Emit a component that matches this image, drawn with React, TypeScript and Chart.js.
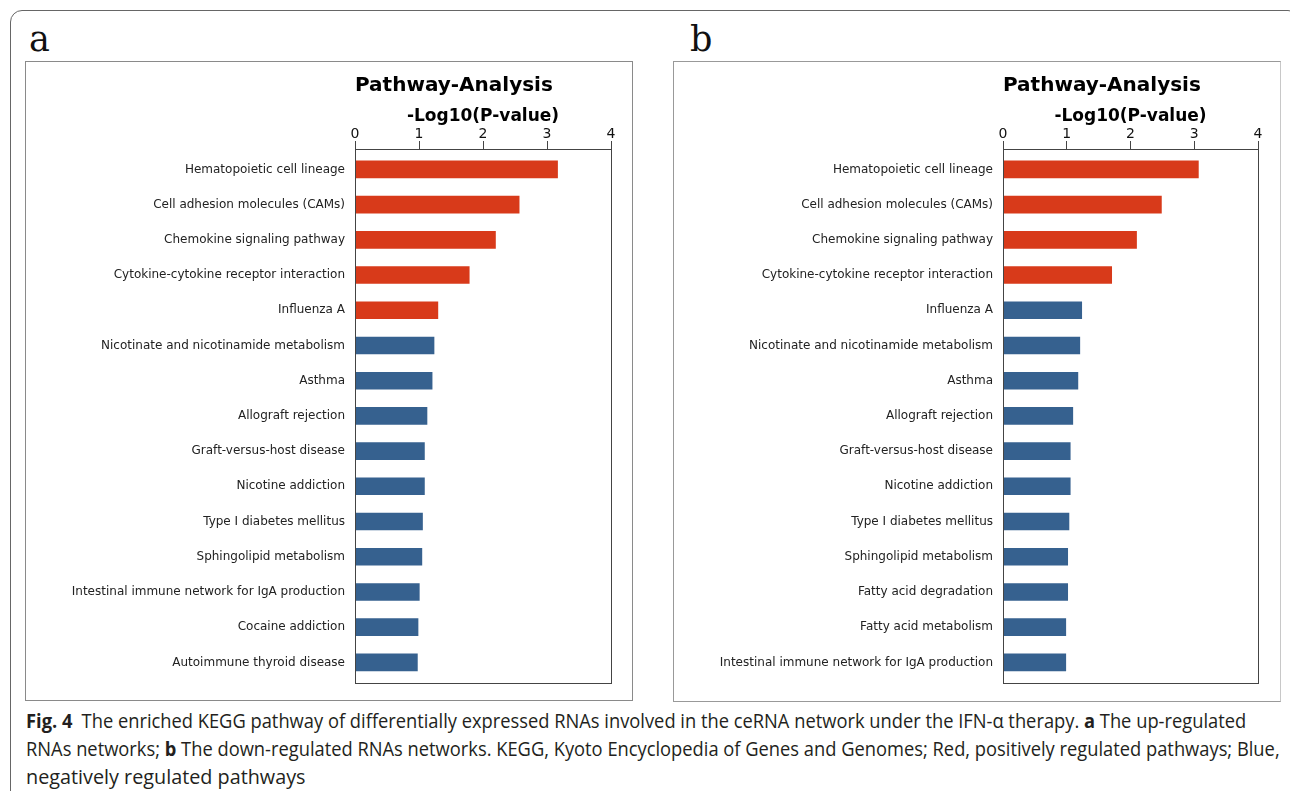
import React, { useEffect, useLayoutEffect, useRef, useState } from "react";
import { Chart, registerables } from "chart.js";

Chart.register(...registerables);

// ---------- data ----------
const categoriesA = [
  "Hematopoietic cell lineage",
  "Cell adhesion molecules (CAMs)",
  "Chemokine signaling pathway",
  "Cytokine-cytokine receptor interaction",
  "Influenza A",
  "Nicotinate and nicotinamide metabolism",
  "Asthma",
  "Allograft rejection",
  "Graft-versus-host disease",
  "Nicotine addiction",
  "Type I diabetes mellitus",
  "Sphingolipid metabolism",
  "Intestinal immune network for IgA production",
  "Cocaine addiction",
  "Autoimmune thyroid disease",
];
const valuesA = [3.17, 2.57, 2.2, 1.79, 1.3, 1.24, 1.21, 1.13, 1.09, 1.09, 1.06, 1.05, 1.01, 0.99, 0.98];
const regulationA = ["up", "up", "up", "up", "up", "down", "down", "down", "down", "down", "down", "down", "down", "down", "down"];

const categoriesB = [
  "Hematopoietic cell lineage",
  "Cell adhesion molecules (CAMs)",
  "Chemokine signaling pathway",
  "Cytokine-cytokine receptor interaction",
  "Influenza A",
  "Nicotinate and nicotinamide metabolism",
  "Asthma",
  "Allograft rejection",
  "Graft-versus-host disease",
  "Nicotine addiction",
  "Type I diabetes mellitus",
  "Sphingolipid metabolism",
  "Fatty acid degradation",
  "Fatty acid metabolism",
  "Intestinal immune network for IgA production",
];
const valuesB = [3.07, 2.49, 2.1, 1.71, 1.24, 1.21, 1.18, 1.1, 1.06, 1.06, 1.04, 1.02, 1.02, 0.99, 0.99];
const regulationB = ["up", "up", "up", "up", "down", "down", "down", "down", "down", "down", "down", "down", "down", "down", "down"];

const xTickValues = [0, 1, 2, 3, 4];
const chartTitle = "Pathway-Analysis";
const axisTitle = "-Log10(P-value)";

const captionLines = [
  [
    { b: true, t: "Fig. 4" },
    { b: false, t: "\u2002The enriched KEGG pathway of differentially expressed RNAs involved in the ceRNA network under the IFN-\u03b1 therapy. " },
    { b: true, t: "a" },
    { b: false, t: " The up-regulated" },
  ],
  [
    { b: false, t: "RNAs networks; " },
    { b: true, t: "b" },
    { b: false, t: " The down-regulated RNAs networks. KEGG, Kyoto Encyclopedia of Genes and Genomes; Red, positively regulated pathways; Blue," },
  ],
  [{ b: false, t: "negatively regulated pathways" }],
];
const captionWidths = [1220, 1254, 280];

// ---------- styles ----------
const RED = "#d83a1a";
const BLUE = "#36618f";
const SPINE = "#444444";
const FONT = "'DejaVu Sans', sans-serif";

const framePlugin = {
  id: "frame",
  afterDraw(chart: any) {
    const { ctx, chartArea: a } = chart;
    ctx.save();
    ctx.strokeStyle = SPINE;
    ctx.lineWidth = 1;
    const l = Math.round(a.left) + 0.5;
    const t = Math.round(a.top) + 0.5;
    const r = Math.round(a.right) + 0.5;
    const b = Math.round(a.bottom) + 0.5;
    ctx.strokeRect(l, t, r - l, b - t);
    ctx.restore();
  },
};

function makeConfig(categories: string[], values: number[], regulation: string[], rightPad: number, bottomPad: number): any {
  const n = categories.length;
  return {
    type: "bar",
    data: {
      datasets: [
        {
          data: values.map((v, i) => ({ x: v, y: i })),
          backgroundColor: regulation.map((r) => (r === "up" ? RED : BLUE)),
          borderWidth: 0,
          barPercentage: 0.5,
          categoryPercentage: 1,
        },
      ],
    },
    options: {
      indexAxis: "y",
      animation: false,
      responsive: false,
      maintainAspectRatio: false,
      layout: { padding: { left: 0, right: rightPad, top: 0, bottom: bottomPad } },
      plugins: {
        legend: { display: false },
        tooltip: { enabled: false },
        title: {
          display: true,
          text: chartTitle,
          align: "start",
          fullSize: false,
          color: "#000",
          font: { family: FONT, size: 20, weight: "bold", lineHeight: 1.2 },
          padding: { top: 12, bottom: 0 },
        },
      },
      scales: {
        x: {
          type: "linear",
          position: "top",
          min: xTickValues[0],
          max: xTickValues[xTickValues.length - 1],
          afterBuildTicks: (s: any) => {
            s.ticks = xTickValues.map((v) => ({ value: v }));
          },
          ticks: {
            font: { family: FONT, size: 14, lineHeight: 1 },
            color: "#111",
            padding: 0,
            maxRotation: 0,
          },
          grid: { drawOnChartArea: false, drawTicks: true, tickLength: 8, color: SPINE, tickColor: SPINE, tickWidth: 1 },
          border: { display: false },
          title: {
            display: true,
            text: axisTitle,
            color: "#000",
            font: { family: FONT, size: 17, weight: "bold", lineHeight: 1.2 },
            padding: { top: 8, bottom: 0 },
          },
          afterFit: (s: any) => {
            s.height = 51;
          },
        },
        y: {
          type: "linear",
          offset: false,
          min: -0.58,
          max: n - 1 + 0.58,
          reverse: true,
          afterBuildTicks: (s: any) => {
            s.ticks = categories.map((_, i) => ({ value: i }));
          },
          ticks: {
            autoSkip: false,
            callback: (v: any) => categories[v],
            font: { family: FONT, size: 12 },
            color: "#222",
            padding: 10,
          },
          grid: { display: false, drawTicks: false, offset: false },
          border: { display: false },
          afterFit: (s: any) => {
            s.width = 329;
          },
        },
      },
    },
    plugins: [framePlugin],
  };
}

function BarPanel(props: { left: number; categories: string[]; values: number[]; regulation: string[]; rightPad: number; bottomPad: number }) {
  const ref = useRef<HTMLCanvasElement>(null);
  useEffect(() => {
    if (!ref.current) return;
    const chart = new Chart(ref.current, makeConfig(props.categories, props.values, props.regulation, props.rightPad, props.bottomPad));
    return () => chart.destroy();
  }, []);
  return (
    <canvas
      ref={ref}
      width={606}
      height={638}
      style={{ position: "absolute", left: props.left, top: 62, width: 606, height: 638 }}
    />
  );
}

function FitLine(props: { top: number; width: number; parts: { b: boolean; t: string }[] }) {
  const ref = useRef<HTMLSpanElement>(null);
  const [sx, setSx] = useState(1);
  useLayoutEffect(() => {
    const measure = () => {
      if (!ref.current) return;
      const w = ref.current.offsetWidth;
      if (w > 0) setSx(props.width / w);
    };
    measure();
    if ((document as any).fonts && (document as any).fonts.ready) {
      (document as any).fonts.ready.then(measure);
    }
  }, []);
  return (
    <span
      ref={ref}
      style={{
        position: "absolute",
        left: 26,
        top: props.top,
        whiteSpace: "pre",
        display: "inline-block",
        transform: `scaleX(${sx})`,
        transformOrigin: "0 0",
        fontFamily: "'Open Sans', 'Noto Sans', sans-serif",
        fontSize: 20,
        lineHeight: "28px",
        color: "#231f20",
      }}
    >
      {props.parts.map((p, i) => (
        <span key={i} style={{ fontWeight: p.b ? 700 : 400 }}>
          {p.t}
        </span>
      ))}
    </span>
  );
}

export default function App() {
  return (
    <div
      style={{
        position: "fixed",
        left: 0,
        top: 0,
        width: 1290,
        height: 791,
        overflow: "hidden",
        background: "#fff",
      }}
    >
      <div
        style={{
          position: "absolute",
          left: 10,
          top: 10,
          width: 1290,
          height: 830,
          border: "1.5px solid #666",
          borderRadius: 12,
          boxSizing: "border-box",
        }}
      />
      <div style={{ position: "absolute", left: 29, top: 21, fontFamily: "'DejaVu Serif', serif", fontSize: 35, lineHeight: "36px", color: "#111" }}>a</div>
      <div style={{ position: "absolute", left: 690, top: 21, fontFamily: "'DejaVu Serif', serif", fontSize: 35, lineHeight: "36px", color: "#111" }}>b</div>
      <div style={{ position: "absolute", left: 25, top: 61, width: 608, height: 640, border: "1px solid #8a8a8a", boxSizing: "border-box" }} />
      <div style={{ position: "absolute", left: 673, top: 61, width: 608, height: 641, border: "1px solid #999", borderRightColor: "#c8c8c8", boxSizing: "border-box" }} />
      <BarPanel left={26} categories={categoriesA} values={valuesA} regulation={regulationA} rightPad={21} bottomPad={15} />
      <BarPanel left={674} categories={categoriesB} values={valuesB} regulation={regulationB} rightPad={22} bottomPad={14} />
      {captionLines.map((parts, i) => (
        <FitLine key={i} top={707 + i * 28} width={captionWidths[i]} parts={parts} />
      ))}
    </div>
  );
}
